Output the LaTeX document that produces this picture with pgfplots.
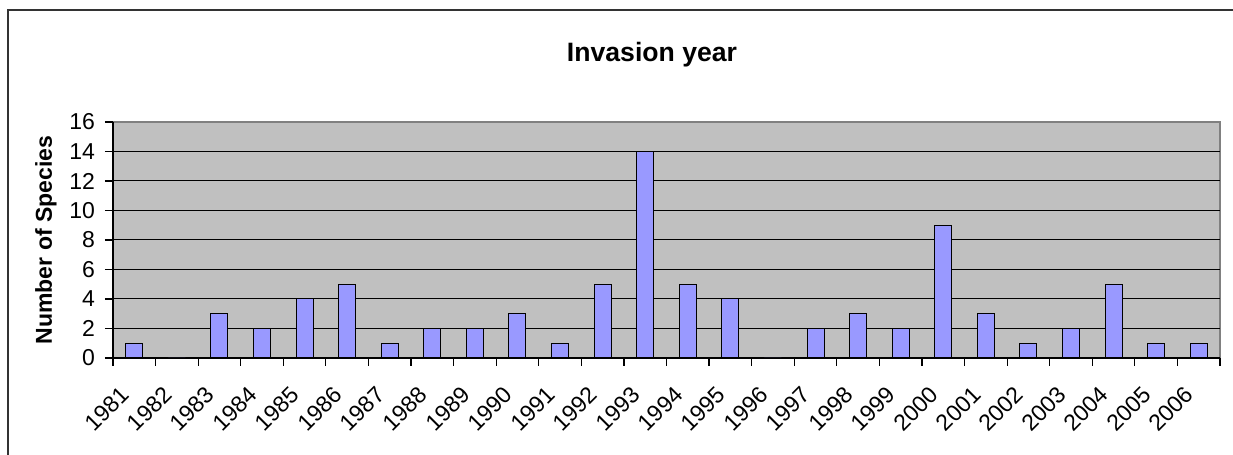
\documentclass[border=0pt]{standalone}
\usepackage{fontspec}
\setmainfont{Liberation Sans}
\usepackage{pgfplots}
\pgfplotsset{compat=1.18}
\definecolor{plotgray}{HTML}{C0C0C0}
\definecolor{barblue}{HTML}{9999FF}
\definecolor{bordergray}{HTML}{808080}
\begin{document}
\begin{tikzpicture}
\path[use as bounding box] (0,0) rectangle (616.5pt,227.5pt);
\draw[line width=0.8pt, black!80] (4pt,0) -- (4pt,222.5pt) -- (616.5pt,222.5pt);
\begin{axis}[
  at={(56.5pt,48.5pt)}, anchor=south west,
  scale only axis, width=553.5pt, height=118pt,
  xmin=-0.5, xmax=25.5, ymin=0, ymax=16,
  axis background/.style={fill=plotgray, draw=bordergray, line width=0.6pt},
  axis lines=left, axis line style={-, black, line width=0.6pt},
  tick align=outside,
  xtick={-0.5,0.5,...,25.5},
  xticklabels={1981,1982,1983,1984,1985,1986,1987,1988,1989,1990,1991,1992,1993,1994,1995,1996,1997,1998,1999,2000,2001,2002,2003,2004,2005,2006,},
  ytick={0,2,...,16},
  extra y ticks={2,4,...,14}, extra y tick labels={},
  extra y tick style={grid=major, major tick length=0pt},
  grid style={black, line width=0.5pt},
  major tick length=4pt,
  tick style={black, line width=0.6pt},
  /pgf/number format/assume math mode=true,
  ticklabel style={font=\fontsize{11.5}{13}\selectfont},
  yticklabel style={xshift=-1.5pt},
  xticklabel style={xshift=8.5pt, yshift=-10pt, rotate=45, anchor=east},
]
\addplot[ybar, bar width=8.5pt, fill=barblue, draw=black, line width=0.5pt] coordinates {
(0,1) (1,0) (2,3) (3,2) (4,4) (5,5) (6,1) (7,2) (8,2) (9,3) (10,1) (11,5) (12,14)
(13,5) (14,4) (15,0) (16,2) (17,3) (18,2) (19,9) (20,3) (21,1) (22,2) (23,5) (24,1) (25,1)
};
\end{axis}
\node[font=\fontsize{13.3}{16}\selectfont\bfseries] at (326pt,200pt) {Invasion year};
\node[font=\fontsize{11.5}{14}\selectfont\bfseries, rotate=90] at (23pt,107.5pt) {Number of Species};
\end{tikzpicture}
\end{document}
